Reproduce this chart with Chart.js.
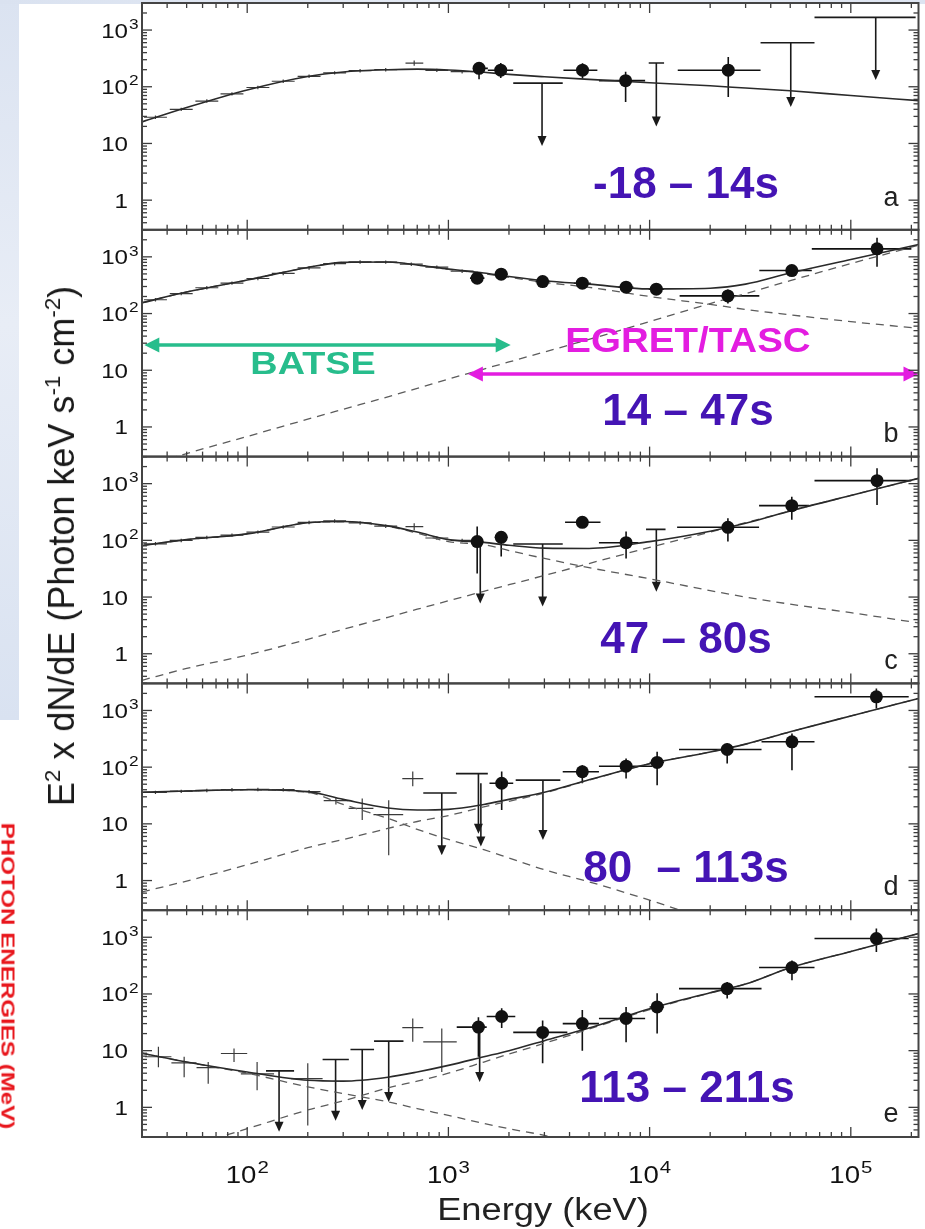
<!DOCTYPE html>
<html>
<head>
<meta charset="utf-8">
<title>Spectral evolution</title>
<script src="https://cdn.jsdelivr.net/npm/chart.js@4.4.1/dist/chart.umd.min.js"></script>
<style>
  html, body { margin: 0; padding: 0; }
  body { width: 925px; height: 1229px; position: relative; overflow: hidden; background: #fff;
         font-family: "Liberation Sans", Arial, sans-serif; }
  #bgLeft { position: absolute; left: 0; top: 0; width: 19px; height: 720px;
            background: linear-gradient(180deg, #dbe3f1 0%, #e8edf6 45%, #d9e2f1 100%); }
  #bgTop { position: absolute; left: 0; top: 0; width: 925px; height: 4px;
           background: linear-gradient(90deg, #dae2f0, #e8edf6 70%, #dde4f1); }
  canvas { position: absolute; left: 0; }
  .txt { position: absolute; white-space: pre; line-height: 1; }
  .txt sup { font-size: 0.62em; vertical-align: 0.62em; line-height: 0; }
</style>
</head>
<body>
<div id="bgLeft"></div>
<div id="bgTop"></div>
<script>
// energy grid (keV) for the model curves
const modelE = [30, 50, 100, 200, 300, 500, 700, 1000, 1500, 2000, 3000, 5000, 1e4, 2e4, 3e4, 5e4, 1e5, 2.17e5];

// model curves (E^2 dN/dE)
const totalA = [24, 43, 88, 152, 182, 200, 205, 198, 180, 165, 150, 135, 118, 104, 95, 85, 70, 57];

const totalB = [155, 240, 390, 650, 800, 810, 720, 610, 520, 450, 380, 330, 272, 280, 330, 520, 900, 1650];
const bandB  = [155, 240, 390, 650, 800, 805, 715, 600, 505, 435, 355, 290, 200, 145, 118, 95, 72, 55];
const plB    = [0.2, 0.34, 0.68, 1.37, 2.05, 3.4, 4.8, 7, 10.5, 14, 21, 35, 72, 150, 225, 380, 760, 1600];

const totalC = [81, 103, 130, 205, 215, 180, 140, 103, 92, 82, 73, 72, 95, 145, 200, 330, 620, 1240];
const bandC  = [81, 103, 130, 204, 213, 176, 134, 95, 84, 66, 48, 33, 21, 13, 10, 7.5, 5.3, 3.5];
const plC    = [0.34, 0.55, 0.95, 1.8, 2.7, 4.4, 6.1, 8.6, 12.6, 16.5, 24, 39, 75, 140, 205, 330, 620, 1240];

const totalD = [36, 38, 40, 37, 27, 19, 17.5, 18, 22, 27, 36, 60, 115, 185, 255, 420, 800, 1630];
const bandD  = [36, 38, 40, 36, 22, 12.5, 8, 5.3, 3.5, 2.5, 1.55, 0.95, 0.45, 0.2, null, null, null, null];
const plD    = [0.63, 0.98, 1.9, 3.8, 5.3, 8.3, 11, 14, 20, 25, 35, 59, 115, 185, 255, 420, 800, 1630];

const totalE = [9, 6.3, 4.2, 3.0, 2.9, 3.4, 4.2, 5.5, 7.8, 10, 15, 25, 55, 105, 150, 290, 560, 1160];
const bandE  = [9, 6.3, 4.0, 2.3, 1.75, 1.25, 0.95, 0.72, 0.52, 0.42, 0.32, 0.2, null, null, null, null, null, null];
const plE    = [null, 0.2, 0.42, 0.9, 1.3, 2.2, 2.9, 4.0, 6.3, 8.7, 13.5, 24, 53, 104, 150, 290, 560, 1160];

// BATSE bins: [E, value, low, high, Elow, Ehigh] (short rows have small errors)
const batseA = [[35, 29], [47, 40], [63, 56], [84, 75], [113, 97], [151, 125], [203, 153], [272, 176],
                [364, 192], [488, 200], [676, 262, 235, 290, 612, 750], [876, 195], [1170, 185]];
const batseB = [[35, 175], [47, 225], [63, 285], [84, 345], [113, 415], [151, 510], [203, 640], [272, 760],
                [364, 815], [488, 810], [654, 745], [876, 660], [1170, 560]];
const batseC = [[35, 87], [47, 100], [63, 113], [84, 124], [113, 140], [151, 172], [203, 207], [272, 220],
                [364, 203], [488, 178], [676, 174, 150, 200, 612, 750], [876, 110], [1170, 100]];
const batseD = [[35, 36], [47, 37.5], [63, 39], [84, 40], [113, 40.5], [151, 40], [203, 37],
                [276, 25.7, 22, 29, 240, 318], [373, 18.7, 11.7, 28, 319, 424],
                [505, 14.6, 2.8, 26, 424, 596], [665, 63, 46, 84, 590, 750]];
const batseE = [[36.2, 7.8, 5.1, 11.7, 31, 42], [48.6, 6.1, 3.4, 7.8, 42, 56], [64, 5.0, 2.6, 6.3, 56, 73],
                [86, 8.9, 6.3, 10.9, 74, 100], [112, 3.9, 2.0, 6.3, 93, 136], [200, 3.2, 0.48, 6.0, 165, 237],
                [665, 25.5, 14.3, 37, 590, 750], [927, 14.3, 4.2, 24.5, 750, 1100]];

// EGRET/TASC points: [E, value, low, high, Elow, Ehigh]
const tascA = [[1420, 211, 135, 270, 1330, 1570], [1820, 196, 142, 262, 1570, 2100], [4640, 196, 140, 260, 3730, 5500],
               [7600, 128, 54, 184, 5600, 9500], [24600, 196, 66, 335, 13800, 35600]];
const tascB = [[1390, 421, 370, 480, 1280, 1510], [1830, 495, 440, 560, 1700, 1970], [2940, 367, 330, 410, 2700, 3200],
               [4630, 343, 305, 385, 4200, 5100], [7640, 292, 255, 335, 7000, 8300], [10800, 269, 225, 320, 9900, 11800],
               [24500, 205, 150, 265, 14100, 35100], [50900, 573, 470, 700, 35100, 64000], [135000, 1385, 670, 2170, 64000, 200000]];
const tascC = [[1390, 95, 26, 175, 1300, 1490], [1830, 113, 52, 143, 1700, 1970], [4630, 208, 185, 235, 3800, 5700],
               [7640, 91, 48, 143, 5600, 8800], [24500, 170, 95, 245, 13700, 35000], [50900, 409, 232, 590, 35000, 62000],
               [135000, 1130, 420, 1860, 66000, 200000]];
const tascD = [[1840, 52, 17.6, 84, 1600, 2100], [4630, 83, 52, 108, 3700, 5600], [7640, 104, 63, 142, 5600, 10300],
               [10900, 121, 48, 187, 10000, 11800], [24300, 205, 116, 262, 14000, 36000], [51000, 280, 88, 394, 36000, 66000],
               [134000, 1740, 1080, 2440, 66000, 194000]];
const tascE = [[1410, 26, 7.8, 39, 1100, 1550], [1840, 40, 25, 56, 1550, 2150], [2940, 21, 6, 34, 2100, 3900],
               [4630, 30, 10, 52, 3700, 5600], [7640, 37, 14, 59, 5600, 9500], [10900, 59, 20, 103, 10000, 11800],
               [24300, 124, 83, 163, 14000, 36000], [51000, 292, 175, 390, 35000, 66000], [134000, 950, 550, 1420, 66000, 194000]];

// upper limits: [E, top, arrow tip, Elow, Ehigh]
const ulA = [[2920, 116, 9, 2100, 3700], [10800, 262, 20, 9900, 11800], [50300, 597, 44, 35600, 66000], [133000, 1675, 131, 66000, 210000]];
const ulB = [];
const ulC = [[1440, 95, 7.7, 1440, 1440], [2940, 86, 6.8, 2100, 3700], [10800, 156, 12.4, 9600, 12000]];
const ulD = [[927, 35, 2.8, 750, 1100], [1410, 77, 6.7, 1090, 1570], [1450, 52, 4.0, 1450, 1450], [2950, 59, 5.2, 2160, 3600]];
const ulE = [[144, 4.4, 0.37, 124, 171], [275, 7.0, 0.58, 237, 320], [373, 10.5, 0.9, 326, 427], [505, 14.7, 1.24, 427, 598], [1430, 26, 2.8, 1430, 1430]];

const panelLetters = ['a', 'b', 'c', 'd', 'e'];
const timeLabels = ['-18 – 14s', '14 – 47s', '47 – 80s', '80  – 113s', '113 – 211s'];

const yTickVals = [1, 10, 100, 1000];
const yTickText = ['1', '10', '10^2', '10^3'];
const xTickVals = [100, 1000, 10000, 100000];
const xTickText = ['10^2', '10^3', '10^4', '10^5'];

// instrument ranges in panel b: [E from, E to, level]
const batseSpan = [30.8, 2040, 27.8];
const egretSpan = [1250, 2.17e5, 8.6];

const PANEL_H = 226.8;
const GREEN = '#27bd8c', MAGENTA = '#e31de0', PURPLE = '#4414b4';

function seg(ctx, x1, y1, x2, y2) {
  ctx.beginPath(); ctx.moveTo(x1, y1); ctx.lineTo(x2, y2); ctx.stroke();
}

function supText(ctx, label, x, baseY, size, align, sx) {
  const parts = label.split('^');
  const es = Math.round(size * 0.72);
  ctx.font = size + 'px "Liberation Sans"';
  const bw = ctx.measureText(parts[0]).width * sx;
  let x0 = x - bw;
  if (align === 'center') {
    ctx.font = es + 'px "Liberation Sans"';
    const ew = parts[1] ? ctx.measureText(parts[1]).width * sx + 1 : 0;
    x0 = x - (bw + ew) / 2;
  }
  ctx.save(); ctx.translate(x0, baseY); ctx.scale(sx, 1);
  ctx.font = size + 'px "Liberation Sans"'; ctx.fillText(parts[0], 0, 0); ctx.restore();
  if (parts[1]) {
    ctx.save(); ctx.translate(x0 + bw + 1, baseY - size * 0.42); ctx.scale(sx, 1);
    ctx.font = es + 'px "Liberation Sans"'; ctx.fillText(parts[1], 0, 0); ctx.restore();
  }
}

const errorBars = {
  id: 'errorBars',
  beforeDatasetsDraw(chart) {
    const { ctx, chartArea: a, scales: { x, y } } = chart;
    ctx.save();
    ctx.beginPath(); ctx.rect(a.left, a.top, a.width, a.height); ctx.clip();
    chart.data.datasets.forEach(ds => {
      if (!ds.bars) return;
      ctx.strokeStyle = ds.barColor; ctx.fillStyle = ds.barColor; ctx.lineWidth = ds.barWidth;
      ds.data.forEach(p => {
        const px = x.getPixelForValue(p.x);
        if (ds.bars === 'cross') {
          const py = y.getPixelForValue(p.y);
          seg(ctx, x.getPixelForValue(p.elo), py, x.getPixelForValue(p.ehi), py);
          seg(ctx, px, y.getPixelForValue(p.lo), px, y.getPixelForValue(p.hi));
        } else {
          const top = y.getPixelForValue(p.y), tip = y.getPixelForValue(p.tip);
          if (p.ehi > p.elo) seg(ctx, x.getPixelForValue(p.elo), top, x.getPixelForValue(p.ehi), top);
          seg(ctx, px, top, px, tip - 8);
          ctx.beginPath();
          ctx.moveTo(px - 4.5, tip - 10); ctx.lineTo(px + 4.5, tip - 10); ctx.lineTo(px, tip);
          ctx.closePath(); ctx.fill();
        }
      });
    });
    ctx.restore();
  }
};

const frame = {
  id: 'frame',
  afterDatasetsDraw(chart, args, opts) {
    const { ctx, chartArea: a, scales: { x, y } } = chart;
    ctx.save();
    // range arrows (panel b)
    (opts.arrows || []).forEach(([e1, e2, lvl, col]) => {
      const x1 = x.getPixelForValue(e1), x2 = x.getPixelForValue(e2), py = y.getPixelForValue(lvl);
      ctx.strokeStyle = col; ctx.fillStyle = col; ctx.lineWidth = 3.5;
      seg(ctx, x1 + 8, py, x2 - 8, py);
      ctx.beginPath(); ctx.moveTo(x1, py); ctx.lineTo(x1 + 15, py - 7.5); ctx.lineTo(x1 + 15, py + 7.5); ctx.closePath(); ctx.fill();
      ctx.beginPath(); ctx.moveTo(x2, py); ctx.lineTo(x2 - 15, py - 7.5); ctx.lineTo(x2 - 15, py + 7.5); ctx.closePath(); ctx.fill();
    });
    // inward ticks
    ctx.strokeStyle = '#3c3c3c'; ctx.lineWidth = 1.3;
    for (let d = 1; d <= 5; d++) {
      for (let m = 1; m <= 9; m++) {
        const v = m * Math.pow(10, d);
        if (v < x.min || v > x.max) continue;
        const px = x.getPixelForValue(v), len = m === 1 ? 10 : 5;
        seg(ctx, px, a.bottom, px, a.bottom - len);
        seg(ctx, px, a.top, px, a.top + len);
      }
    }
    for (let d = -1; d <= 3; d++) {
      for (let m = 1; m <= 9; m++) {
        const v = m * Math.pow(10, d);
        if (v < y.min || v > y.max) continue;
        const py = y.getPixelForValue(v), len = m === 1 ? 10 : 5;
        seg(ctx, a.left, py, a.left + len, py);
        seg(ctx, a.right, py, a.right - len, py);
      }
    }
    ctx.lineWidth = 2; ctx.strokeStyle = '#444';
    ctx.strokeRect(a.left, a.top, a.width, a.height);
    // tick labels
    ctx.fillStyle = '#111'; ctx.textAlign = 'left'; ctx.textBaseline = 'alphabetic';
    yTickVals.forEach((v, i) => {
      supText(ctx, yTickText[i], a.left - 14, y.getPixelForValue(v) + 7.5, 21, 'right', 1.15);
    });
    if (opts.xLabels) {
      xTickVals.forEach((v, i) => {
        supText(ctx, xTickText[i], x.getPixelForValue(v), a.bottom + 46, 23, 'center', 1.2);
      });
    }
    ctx.restore();
  }
};

function curve(vals, dashed) {
  const pts = [];
  modelE.forEach((e, i) => { if (vals[i] != null) pts.push({ x: e, y: vals[i] }); });
  return {
    data: pts, showLine: true, pointRadius: 0, order: 2,
    borderColor: dashed ? '#5c5c5c' : '#2a2a2a', borderWidth: dashed ? 1.3 : 1.6,
    borderDash: dashed ? [8, 6] : [], cubicInterpolationMode: 'monotone'
  };
}

function crossSet(rows, color, width, radius) {
  return {
    data: rows.map(r => ({
      x: r[0], y: r[1],
      lo: r[2] != null ? r[2] : r[1] * 0.93, hi: r[3] != null ? r[3] : r[1] * 1.07,
      elo: r[4] != null ? r[4] : r[0] / 1.14, ehi: r[5] != null ? r[5] : r[0] * 1.14
    })),
    bars: 'cross', barColor: color, barWidth: width,
    pointRadius: radius, pointBackgroundColor: '#111', pointBorderWidth: 0, order: radius ? 0 : 1
  };
}

function ulSet(rows) {
  return {
    data: rows.map(r => ({ x: r[0], y: r[1], tip: r[2], elo: r[3], ehi: r[4] })),
    bars: 'ul', barColor: '#1a1a1a', barWidth: 1.6, pointRadius: 0, order: 1
  };
}

const panels = [
  { total: totalA, band: null, pl: null, batse: batseA, tasc: tascA, ul: ulA },
  { total: totalB, band: bandB, pl: plB, batse: batseB, tasc: tascB, ul: ulB },
  { total: totalC, band: bandC, pl: plC, batse: batseC, tasc: tascC, ul: ulC },
  { total: totalD, band: bandD, pl: plD, batse: batseD, tasc: tascD, ul: ulD },
  { total: totalE, band: bandE, pl: plE, batse: batseE, tasc: tascE, ul: ulE }
];

panels.forEach((p, i) => {
  const top = 3 + PANEL_H * i;
  const cTop = Math.floor(top) - 16;
  const padTop = top - cTop;
  const cH = i === 4 ? 1229 - cTop : Math.ceil(padTop + PANEL_H + 16);
  const cv = document.createElement('canvas');
  cv.width = 925; cv.height = cH; cv.style.top = cTop + 'px';
  document.body.appendChild(cv);

  const datasets = [curve(p.total, false)];
  if (p.band) datasets.push(curve(p.band, true));
  if (p.pl) datasets.push(curve(p.pl, true));
  datasets.push(crossSet(p.batse, '#3a3a3a', 1.2, 0));
  datasets.push(crossSet(p.tasc, '#111', 1.6, 6.5));
  datasets.push(ulSet(p.ul));

  new Chart(cv, {
    type: 'scatter',
    data: { datasets },
    options: {
      responsive: false, animation: false, events: [],
      layout: { padding: { top: padTop, bottom: cH - padTop - PANEL_H, left: 142, right: 2 } },
      plugins: {
        legend: { display: false }, tooltip: { enabled: false },
        frame: {
          xLabels: i === 4,
          arrows: i === 1 ? [[...batseSpan, GREEN], [...egretSpan, MAGENTA]] : []
        }
      },
      scales: {
        x: { type: 'logarithmic', min: 30, max: 2.17e5, display: false },
        y: { type: 'logarithmic', min: 0.3, max: 3000, display: false }
      }
    },
    plugins: [errorBars, frame]
  });
});

// text overlays
function addText(html, cx, baseline, size, css, sx) {
  const d = document.createElement('div');
  d.className = 'txt';
  d.innerHTML = html;
  d.style.fontSize = size + 'px';
  d.style.left = cx + 'px';
  d.style.top = (baseline - 0.8465 * size) + 'px';
  d.style.transform = 'translateX(-50%) scaleX(' + (sx || 1) + ')';
  Object.assign(d.style, css || {});
  document.body.appendChild(d);
  return d;
}
function addRotated(html, cx, cy, size, deg, css, sx) {
  const d = document.createElement('div');
  d.className = 'txt';
  d.innerHTML = html;
  d.style.fontSize = size + 'px';
  d.style.left = cx + 'px';
  d.style.top = cy + 'px';
  d.style.transform = 'translate(-50%,-50%) rotate(' + deg + 'deg) scaleX(' + (sx || 1) + ')';
  Object.assign(d.style, css || {});
  document.body.appendChild(d);
}

const timeX = [686, 688, 686, 686, 687];
const timeBase = [198, 425, 653, 882, 1102];
const letterBase = [207, 443, 670, 896, 1123];
timeLabels.forEach((t, i) => {
  addText(t, timeX[i], timeBase[i], 44, { fontWeight: 'bold', color: PURPLE });
  addText(panelLetters[i], 891, letterBase[i], 27, { color: '#222' });
});

addText('BATSE', 313, 374, 31, { fontWeight: 'bold', color: GREEN }, 1.22);
addText('EGRET/TASC', 688, 352, 35, { fontWeight: 'bold', color: MAGENTA }, 1.1);
addText('Energy (keV)', 543, 1220, 31, { color: '#222' }, 1.17);
addRotated('E<sup>2</sup> x dN/dE (Photon keV s<sup>-1</sup> cm<sup>-2</sup>)', 62, 546, 36, -90, { color: '#1a1a1a' });
addRotated('PHOTON ENERGIES (MeV)', 8, 976, 19, 90, { fontWeight: 'bold', color: '#e8161c' }, 1.27);
</script>
</body>
</html>
